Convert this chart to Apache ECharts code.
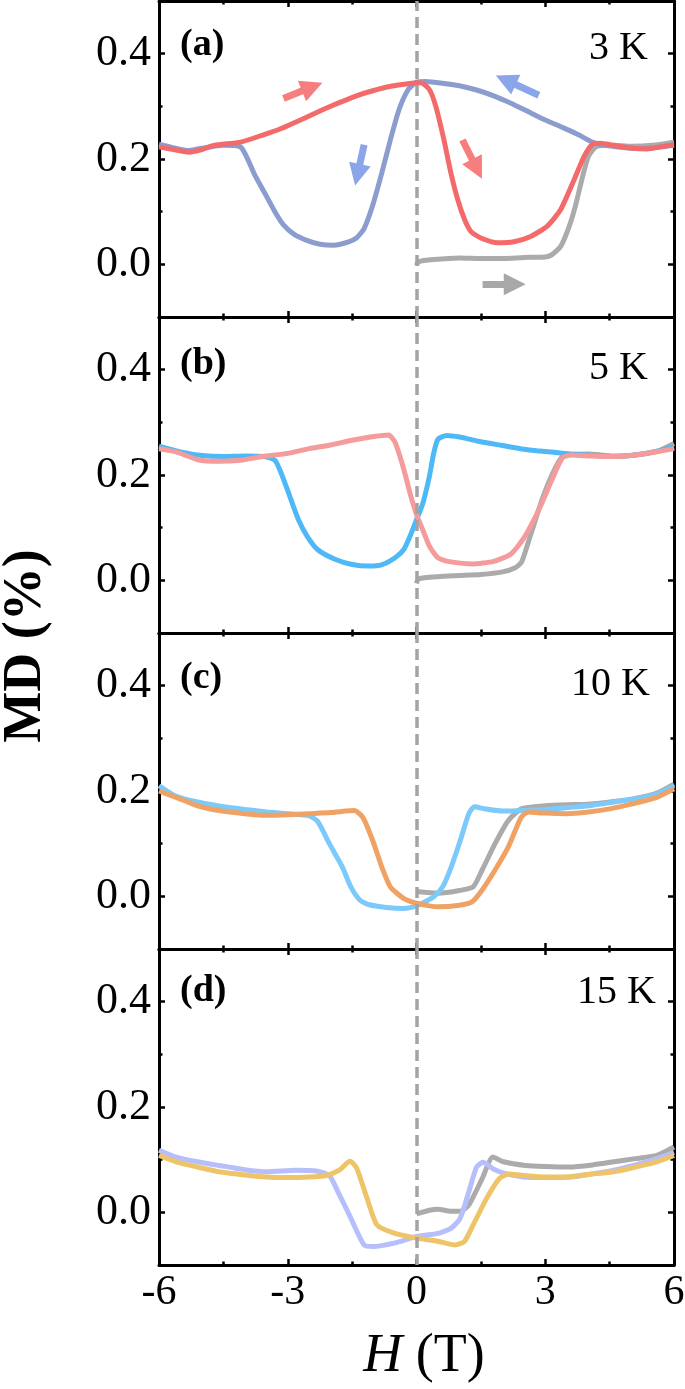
<!DOCTYPE html>
<html><head><meta charset="utf-8">
<script src="https://cdn.jsdelivr.net/npm/echarts@6/dist/echarts.min.js"></script>
<style>html,body{margin:0;padding:0;background:#fff}#c{width:685px;height:1389px}</style>
</head><body><div id="c"></div><script>
// ---------------- DATA ----------------
// Panel (a) 3 K
const aGrayH  = [0.0, 0.05, 0.4, 1.0, 1.5, 2.0, 2.5, 3.0, 3.15, 3.36, 3.55, 3.7, 3.85, 4.0, 4.2, 4.6, 5.0, 5.5, 6.0];
const aGrayMD = [-0.002, 0.005, 0.009, 0.012, 0.011, 0.011, 0.013, 0.014, 0.018, 0.034, 0.070, 0.110, 0.160, 0.204, 0.224, 0.226, 0.224, 0.226, 0.232];
const aDownH  = [6.0, 5.6, 5.2, 4.8, 4.4, 4.1, 3.8, 3.4, 3.0, 2.6, 2.2, 1.8, 1.4, 1.0, 0.6, 0.2, 0.0, -0.2, -0.41, -0.61, -0.81, -1.02, -1.22, -1.4, -1.6, -1.93, -2.25, -2.54, -2.85, -3.1, -3.3, -3.5, -3.77, -4.1, -4.5, -4.9, -5.3, -5.7, -6.0];
const aDownMD = [0.226, 0.222, 0.220, 0.222, 0.226, 0.232, 0.245, 0.260, 0.274, 0.290, 0.306, 0.320, 0.331, 0.339, 0.344, 0.347, 0.346, 0.331, 0.293, 0.236, 0.173, 0.112, 0.068, 0.050, 0.042, 0.036, 0.038, 0.045, 0.057, 0.075, 0.100, 0.130, 0.170, 0.223, 0.226, 0.222, 0.216, 0.222, 0.228];
const aUpH    = [-6.0, -5.6, -5.3, -5.0, -4.7, -4.1, -3.6, -3.15, -2.6, -2.2, -1.8, -1.4, -1.0, -0.6, -0.2, 0.1, 0.3, 0.45, 0.64, 0.8, 0.96, 1.12, 1.27, 1.5, 1.89, 2.27, 2.66, 3.04, 3.36, 3.67, 3.9, 4.1, 4.28, 4.59, 4.98, 5.37, 5.75, 6.0];
const aUpMD   = [0.223, 0.217, 0.213, 0.218, 0.226, 0.232, 0.245, 0.258, 0.278, 0.293, 0.307, 0.320, 0.330, 0.338, 0.343, 0.345, 0.332, 0.300, 0.236, 0.174, 0.123, 0.085, 0.062, 0.050, 0.041, 0.043, 0.053, 0.072, 0.104, 0.160, 0.204, 0.228, 0.230, 0.226, 0.221, 0.219, 0.224, 0.227];
// Panel (b) 5 K
const bGrayH  = [0.0, 0.05, 0.5, 1.0, 1.5, 2.0, 2.3, 2.45, 2.65, 2.95, 3.25, 3.45, 4.0, 4.6, 5.1, 5.6, 6.0];
const bGrayMD = [-0.006, 0.003, 0.007, 0.009, 0.011, 0.016, 0.024, 0.035, 0.084, 0.159, 0.216, 0.238, 0.240, 0.236, 0.238, 0.245, 0.260];
const bDownH  = [6.0, 5.6, 5.1, 4.6, 4.1, 3.6, 3.2, 2.8, 2.5, 2.0, 1.5, 1.0, 0.7, 0.5, 0.4, 0.3, 0.15, 0.0, -0.15, -0.3, -0.5, -0.8, -1.1, -1.5, -1.9, -2.3, -2.55, -2.75, -2.95, -3.15, -3.3, -3.55, -4.0, -4.5, -5.0, -5.5, -6.0];
const bDownMD = [0.253, 0.245, 0.238, 0.235, 0.237, 0.240, 0.243, 0.246, 0.249, 0.256, 0.263, 0.272, 0.275, 0.268, 0.241, 0.197, 0.147, 0.115, 0.084, 0.058, 0.043, 0.030, 0.027, 0.030, 0.040, 0.058, 0.084, 0.115, 0.159, 0.203, 0.228, 0.235, 0.236, 0.235, 0.237, 0.244, 0.255];
const bUpH    = [-6.0, -5.6, -5.1, -4.6, -4.1, -3.6, -3.0, -2.5, -2.0, -1.5, -1.0, -0.65, -0.5, -0.3, -0.15, 0.0, 0.15, 0.3, 0.5, 0.8, 1.3, 1.8, 2.2, 2.5, 2.85, 3.15, 3.4, 3.6, 4.1, 4.6, 5.1, 5.6, 6.0];
const bUpMD   = [0.250, 0.244, 0.229, 0.226, 0.228, 0.235, 0.241, 0.250, 0.257, 0.266, 0.273, 0.276, 0.262, 0.212, 0.165, 0.125, 0.095, 0.065, 0.043, 0.035, 0.031, 0.036, 0.050, 0.080, 0.134, 0.190, 0.233, 0.238, 0.236, 0.235, 0.238, 0.244, 0.250];
// Panel (c) 10 K
const cGrayH  = [0.0, 0.5, 1.0, 1.32, 1.53, 1.83, 2.14, 2.44, 3.0, 3.5, 4.0, 4.6, 5.1, 5.6, 6.0];
const cGrayMD = [0.009, 0.006, 0.011, 0.018, 0.050, 0.100, 0.144, 0.166, 0.172, 0.174, 0.175, 0.180, 0.186, 0.196, 0.213];
const cDownH  = [6.0, 5.6, 5.1, 4.6, 4.1, 3.6, 3.0, 2.5, 2.0, 1.6, 1.35, 1.22, 1.02, 0.81, 0.61, 0.4, 0.2, 0.0, -0.3, -0.7, -1.1, -1.32, -1.53, -1.73, -2.03, -2.3, -2.5, -3.0, -3.5, -4.0, -4.5, -5.1, -5.6, -6.0];
const cDownMD = [0.210, 0.194, 0.185, 0.179, 0.173, 0.169, 0.165, 0.163, 0.162, 0.166, 0.170, 0.157, 0.106, 0.056, 0.018, -0.001, -0.010, -0.018, -0.023, -0.021, -0.016, -0.007, 0.018, 0.056, 0.100, 0.142, 0.153, 0.157, 0.160, 0.165, 0.170, 0.179, 0.190, 0.210];
const cUpH    = [-6.0, -5.6, -5.1, -4.6, -4.0, -3.5, -3.0, -2.5, -2.0, -1.65, -1.45, -1.25, -1.02, -0.81, -0.61, -0.3, 0.0, 0.5, 1.0, 1.3, 1.53, 1.83, 2.14, 2.44, 2.6, 3.0, 3.5, 4.0, 4.5, 5.0, 5.6, 6.0];
const cUpMD   = [0.200, 0.188, 0.172, 0.163, 0.157, 0.154, 0.155, 0.157, 0.159, 0.162, 0.163, 0.150, 0.106, 0.056, 0.018, -0.004, -0.013, -0.020, -0.017, -0.010, 0.012, 0.050, 0.094, 0.150, 0.160, 0.158, 0.157, 0.160, 0.166, 0.175, 0.188, 0.204];
// Panel (d) 15 K
const dGrayH  = [0.0, 0.3, 0.5, 0.8, 1.02, 1.22, 1.53, 1.78, 2.03, 2.54, 3.0, 3.56, 4.1, 4.6, 5.1, 5.6, 6.0];
const dGrayMD = [-0.003, 0.004, 0.006, 0.002, 0.002, 0.014, 0.064, 0.105, 0.096, 0.089, 0.087, 0.086, 0.090, 0.096, 0.102, 0.108, 0.124];
const dDownH  = [6.0, 5.6, 5.1, 4.6, 4.1, 3.6, 3.0, 2.5, 2.1, 1.8, 1.55, 1.4, 1.22, 1.02, 0.81, 0.5, 0.0, -0.5, -1.0, -1.22, -1.53, -1.83, -2.03, -2.3, -2.8, -3.5, -4.0, -4.6, -5.1, -5.6, -6.0];
const dDownMD = [0.114, 0.102, 0.090, 0.080, 0.073, 0.067, 0.066, 0.067, 0.073, 0.082, 0.095, 0.086, 0.039, -0.011, -0.030, -0.040, -0.046, -0.058, -0.065, -0.062, -0.011, 0.039, 0.070, 0.078, 0.080, 0.077, 0.081, 0.089, 0.096, 0.105, 0.118];
const dUpH    = [-6.0, -5.6, -5.1, -4.6, -4.0, -3.5, -3.0, -2.5, -2.1, -1.8, -1.55, -1.4, -1.15, -0.92, -0.5, 0.0, 0.5, 0.9, 1.12, 1.32, 1.63, 1.93, 2.14, 2.5, 3.0, 3.5, 4.0, 4.6, 5.1, 5.6, 6.0];
const dUpMD   = [0.108, 0.096, 0.086, 0.077, 0.071, 0.067, 0.066, 0.067, 0.070, 0.080, 0.097, 0.085, 0.026, -0.024, -0.040, -0.049, -0.055, -0.062, -0.055, -0.024, 0.026, 0.064, 0.073, 0.070, 0.067, 0.067, 0.072, 0.077, 0.086, 0.096, 0.108];

// arrows of panel (a): [H, MD] tail -> head
const arrowsA = [
  {from: [-3.10, 0.315], to: [-2.43, 0.337], kind: 'red'},
  {from: [-1.22, 0.227], to: [-1.375, 0.170], kind: 'blue'},
  {from: [2.85, 0.321],  to: [2.08, 0.350],  kind: 'blue'},
  {from: [1.07, 0.236],  to: [1.41, 0.181],  kind: 'red'},
  {from: [1.54, -0.038], to: [2.29, -0.038], kind: 'gray'}
];

const panelTags  = ['(a)', '(b)', '(c)', '(d)'];
const panelTemps = ['3 K', '5 K', '10 K', '15 K'];
const xTicks = [-6, -3, 0, 3, 6];
const yTicks = [0.0, 0.2, 0.4];
const yMinorTicks = [0.1, 0.3];

// ---------------- STYLE ----------------
const FONT = '"Liberation Serif", "Times New Roman", serif';
const GRAY = '#ababab';
const panelColors = [
  {down: '#8b9dcf', up: '#f46a6a'},
  {down: '#4fb8f6', up: '#f59b9b'},
  {down: '#7cc9fb', up: '#f0a264'},
  {down: '#b6befc', up: '#edc468'}
];
const arrowColors = {red: '#f77e7e', blue: '#8aa5ea', gray: '#a8a8a8'};
const tops = [1, 317, 633, 949];
const tagY = [45, 364, 678, 991];
const tempY = [48, 368, 684, 992];
const tempX = [648, 648, 650, 656];
const LW = 5;

const zip = (h, m) => h.map((v, i) => [v, m[i]]);
const panels = [
  {gray: zip(aGrayH, aGrayMD), down: zip(aDownH, aDownMD), up: zip(aUpH, aUpMD)},
  {gray: zip(bGrayH, bGrayMD), down: zip(bDownH, bDownMD), up: zip(bUpH, bUpMD)},
  {gray: zip(cGrayH, cGrayMD), down: zip(cDownH, cDownMD), up: zip(cUpH, cUpMD)},
  {gray: zip(dGrayH, dGrayMD), down: zip(dDownH, dDownMD), up: zip(dUpH, dUpMD)}
];

const grid = [], xAxis = [], yAxis = [], series = [], graphic = [];
const blackLine = {color: '#000', width: 3};

panels.forEach((p, i) => {
  grid.push({left: 159, top: tops[i], width: 515, height: 316, containLabel: false, outerBoundsMode: 'none'});
  ['bottom', 'top'].forEach((pos) => {
    const isLabel = pos === 'bottom' && i === 3;
    xAxis.push({
      type: 'value', gridIndex: i, position: pos, min: -6, max: 6, interval: 3,
      axisLine: {show: true, onZero: false, lineStyle: blackLine},
      axisTick: {show: true, inside: true, length: 6, lineStyle: {color: '#000', width: 2.5}},
      minorTick: {show: true, splitNumber: 2, length: 3.5, lineStyle: {color: '#000', width: 2.5}},
      splitLine: {show: false}, minorSplitLine: {show: false},
      axisLabel: {show: isLabel, customValues: xTicks, fontSize: 42, fontFamily: FONT, color: '#000', margin: 7,
                  formatter: (v) => String(v)}
    });
  });
  const yBase = {type: 'value', gridIndex: i, min: -0.1, max: 0.5, interval: 0.1, splitLine: {show: false}};
  ['left', 'right'].forEach((pos) => {
    yAxis.push(Object.assign({}, yBase, {
      position: pos,
      axisLine: {show: true, onZero: false, lineStyle: blackLine},
      axisTick: {show: true, inside: true, length: 6, customValues: yTicks, lineStyle: {color: '#000', width: 2.5}},
      axisLabel: {show: pos === 'left', customValues: yTicks, fontSize: 44, fontFamily: FONT, color: '#000', margin: 8,
                  formatter: (v) => v.toFixed(1)}
    }));
  });
  ['left', 'right'].forEach((pos) => {
    yAxis.push(Object.assign({}, yBase, {
      position: pos,
      axisLine: {show: false, onZero: false},
      axisTick: {show: true, inside: true, length: 3.5, customValues: yMinorTicks, lineStyle: {color: '#000', width: 2.5}},
      axisLabel: {show: false}
    }));
  });
  const common = {type: 'line', xAxisIndex: 2 * i, yAxisIndex: 4 * i, showSymbol: false, symbol: 'none',
                  smooth: 0.2, animation: false, silent: true};
  series.push(Object.assign({}, common, {data: p.gray, z: 2, lineStyle: {color: GRAY, width: LW}, itemStyle: {color: GRAY}}));
  series.push(Object.assign({}, common, {data: p.down, z: 3, lineStyle: {color: panelColors[i].down, width: LW}, itemStyle: {color: panelColors[i].down}}));
  series.push(Object.assign({}, common, {data: p.up, z: 4, lineStyle: {color: panelColors[i].up, width: LW}, itemStyle: {color: panelColors[i].up}}));
  // dashed zero-field line
  series.push({type: 'line', xAxisIndex: 2 * i, yAxisIndex: 4 * i, data: [], z: 6, silent: true, animation: false,
    markLine: {silent: true, symbol: ['none', 'none'], animation: false, label: {show: false},
      lineStyle: {color: '#a3a3a3', width: 3.5, type: [11, 6]}, emphasis: {disabled: true},
      data: [{xAxis: 0, lineStyle: {color: '#a3a3a3', width: 3.5, type: [11, 6]}}]}});

  graphic.push({type: 'text', x: 180, y: tagY[i], z: 100,
    style: {text: panelTags[i], fontSize: 38, fontWeight: 'bold', fontFamily: FONT, fill: '#000', align: 'left', verticalAlign: 'middle'}});
  graphic.push({type: 'text', x: tempX[i], y: tempY[i], z: 100,
    style: {text: panelTemps[i], fontSize: 40, fontFamily: FONT, fill: '#000', align: 'right', verticalAlign: 'middle'}});
});

series.push({
  type: 'lines', coordinateSystem: 'cartesian2d', xAxisIndex: 0, yAxisIndex: 0, z: 10, silent: true, animation: false,
  symbol: ['none', 'triangle'], symbolSize: 22,
  data: arrowsA.map((a) => ({coords: [a.from, a.to], lineStyle: {color: arrowColors[a.kind], width: 7, opacity: 1}}))
});

graphic.push({type: 'text', x: 26, y: 646, rotation: Math.PI / 2, z: 100,
  style: {text: 'MD (%)', fontSize: 54, fontWeight: 'bold', fontFamily: FONT, fill: '#000', align: 'center', verticalAlign: 'middle'}});
graphic.push({type: 'text', x: 424, y: 1357, z: 100,
  style: {text: '{i|H} (T)', fontSize: 54, fontFamily: FONT, fill: '#000', align: 'center', verticalAlign: 'middle',
    rich: {i: {fontSize: 54, fontFamily: FONT, fontStyle: 'italic', fill: '#000'}}}});

const chart = echarts.init(document.getElementById('c'), null, {renderer: 'canvas'});
chart.setOption({animation: false, backgroundColor: '#fff', grid, xAxis, yAxis, series, graphic});
</script></body></html>
